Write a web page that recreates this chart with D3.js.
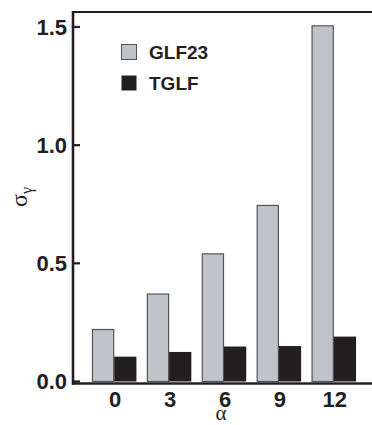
<!DOCTYPE html>
<html>
<head>
<meta charset="utf-8">
<script src="https://cdn.jsdelivr.net/npm/d3@7"></script>
<style>
  body { margin: 0; background: #fff; }
  .tick-label { font-family: "Liberation Sans Narrow", "Liberation Sans", Arial, sans-serif; font-weight: bold; font-size: 22px; fill: #231f20; }
  .legend-label { font-family: "Liberation Sans", Arial, sans-serif; font-weight: bold; font-size: 19px; fill: #231f20; }
  .axis-title { font-family: "Liberation Serif", "DejaVu Serif", serif; fill: #231f20; }
</style>
</head>
<body>
<div id="chart"></div>
<script>
// data
const alphas = ["0", "3", "6", "9", "12"];
const glf23 = [0.22, 0.37, 0.54, 0.745, 1.505];
const tglf = [0.105, 0.125, 0.148, 0.15, 0.19];
const yTicks = [0.0, 0.5, 1.0, 1.5];
const seriesNames = ["GLF23", "TGLF"];

const width = 372, height = 425;
const colors = { GLF23: "#bfc4cb", TGLF: "#231f20" };

const svg = d3.select("#chart").append("svg")
  .attr("width", width)
  .attr("height", height);

// scales
const y = d3.scaleLinear()
  .domain([0, 1.5])
  .range([381.5, 27]);

const x = d3.scaleBand()
  .domain(alphas)
  .range([73, 375])
  .paddingInner(0.19)
  .paddingOuter(0.3455);

const xSub = d3.scaleBand()
  .domain(seriesNames)
  .range([0, x.bandwidth()])
  .padding(0);

const rows = alphas.map((a, i) => ({ alpha: a, GLF23: glf23[i], TGLF: tglf[i] }));

// bars
const groups = svg.append("g")
  .selectAll("g")
  .data(rows)
  .join("g")
    .attr("transform", d => `translate(${x(d.alpha)},0)`);

groups.selectAll("rect")
  .data(d => seriesNames.map(k => ({ key: k, value: d[k] })))
  .join("rect")
    .attr("x", d => xSub(d.key) + (d.key === "GLF23" ? 0.5 : 0))
    .attr("y", d => y(d.value))
    .attr("width", d => xSub.bandwidth() - (d.key === "GLF23" ? 1 : 0))
    .attr("height", d => y(0) - y(d.value))
    .attr("fill", d => colors[d.key])
    .attr("stroke", d => d.key === "GLF23" ? "#555" : "none")
    .attr("stroke-width", 1.2);

// frame: left, top, bottom
const yTop = 12;
svg.append("line")
  .attr("x1", 73).attr("x2", 73)
  .attr("y1", yTop - 1).attr("y2", 384.8)
  .attr("stroke", "#231f20").attr("stroke-width", 2.6);
svg.append("line")
  .attr("x1", 72).attr("x2", width)
  .attr("y1", yTop).attr("y2", yTop)
  .attr("stroke", "#231f20").attr("stroke-width", 2.2);
svg.append("line")
  .attr("x1", 72).attr("x2", width)
  .attr("y1", 383.5).attr("y2", 383.5)
  .attr("stroke", "#231f20").attr("stroke-width", 2.4);

// y axis ticks (inward) and labels
const yAxis = svg.append("g");
yAxis.selectAll("line")
  .data(yTicks)
  .join("line")
    .attr("x1", 73).attr("x2", 80)
    .attr("y1", d => y(d)).attr("y2", d => y(d))
    .attr("stroke", "#231f20").attr("stroke-width", 2.2);
yAxis.selectAll("text")
  .data(yTicks)
  .join("text")
    .attr("class", "tick-label")
    .attr("x", 67)
    .attr("y", d => y(d))
    .attr("dy", "0.36em")
    .attr("text-anchor", "end")
    .text(d => d.toFixed(1));

// x tick labels
svg.append("g")
  .selectAll("text")
  .data(alphas)
  .join("text")
    .attr("class", "tick-label")
    .attr("x", d => x(d) + x.bandwidth() / 2 + 1)
    .attr("y", 407)
    .attr("text-anchor", "middle")
    .text(d => d);

// axis titles
svg.append("text")
  .attr("class", "axis-title")
  .attr("x", 221)
  .attr("y", 420)
  .attr("text-anchor", "middle")
  .attr("font-size", 21)
  .text("α");

const yt = svg.append("text")
  .attr("class", "axis-title")
  .attr("transform", "translate(27,197) rotate(-90)")
  .attr("text-anchor", "middle")
  .attr("font-size", 24);
yt.append("tspan").text("σ");
yt.append("tspan").attr("font-size", 16).attr("dy", 5).text("γ");

// legend
const legend = svg.append("g")
  .selectAll("g")
  .data(seriesNames)
  .join("g")
    .attr("transform", (d, i) => `translate(121,${44 + i * 31})`);
legend.append("rect")
  .attr("x", 0.5).attr("y", 0.5)
  .attr("width", 15).attr("height", 15)
  .attr("fill", d => colors[d])
  .attr("stroke", d => d === "GLF23" ? "#555" : "none");
legend.append("text")
  .attr("class", "legend-label")
  .attr("x", 28)
  .attr("y", 15)
  .text(d => d);
</script>
</body>
</html>
